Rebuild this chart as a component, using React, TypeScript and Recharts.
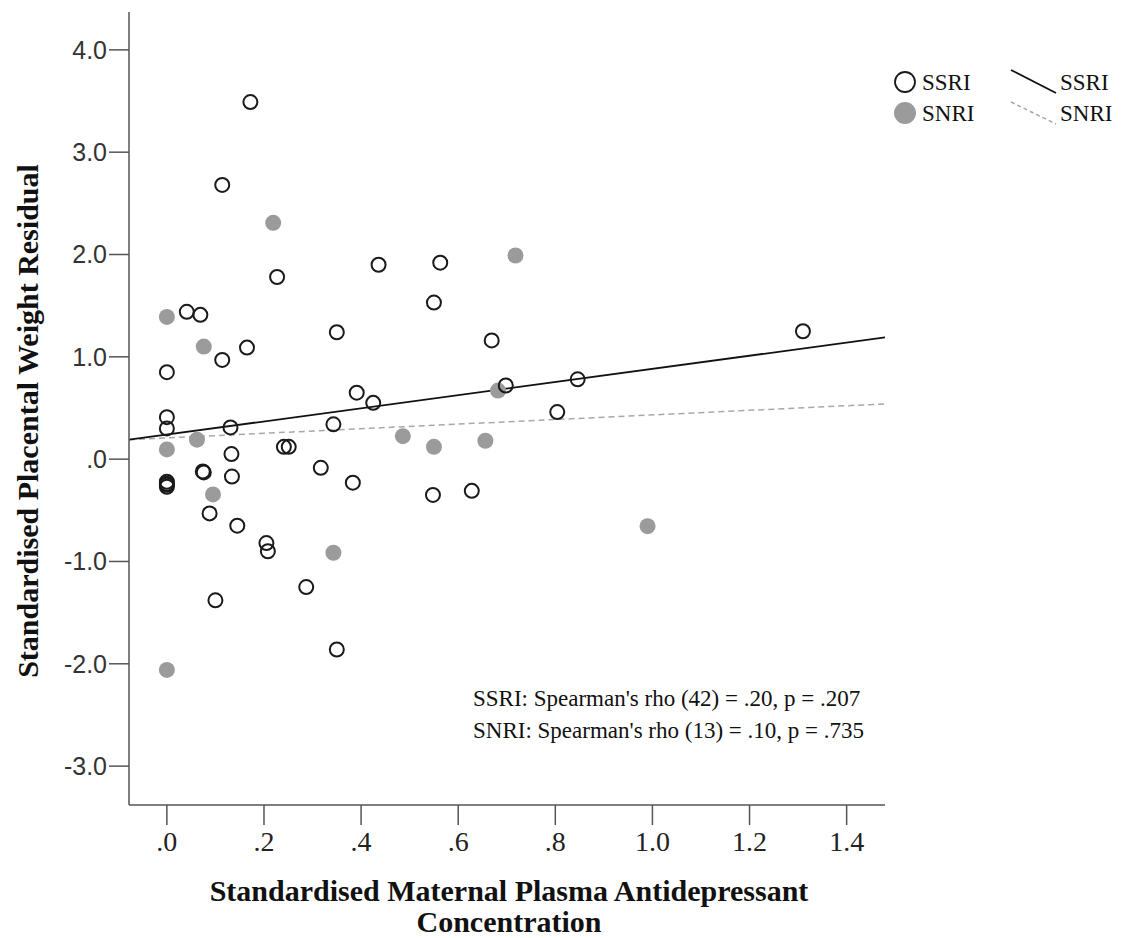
import { ScatterChart, Scatter, XAxis, YAxis, ReferenceLine } from 'recharts'

// SSRI cases (hollow circles)
const ssriX = [
  0.172, 0.114, 0.436, 0.227, 0.041, 0.069, 0.35, 0.165, 0.114, 0, 0.391,
  0.425, 0, 0, 0.131, 0.343, 0.241, 0.251, 0.133, 0, 0, 0, 0, 0.074, 0.076,
  0.134, 0.317, 0.383, 0.088, 0.145, 0.205, 0.208, 0.1, 0.287, 0.35, 0.563,
  0.55, 0.669, 0.698, 0.846, 0.804, 0.548, 0.628, 1.31,
]
const ssriY = [
  3.49, 2.68, 1.9, 1.78, 1.44, 1.41, 1.24, 1.09, 0.97, 0.85, 0.65, 0.55,
  0.41, 0.3, 0.31, 0.34, 0.12, 0.12, 0.05, -0.22, -0.24, -0.25, -0.27, -0.12,
  -0.13, -0.17, -0.085, -0.23, -0.53, -0.65, -0.82, -0.9, -1.38, -1.25, -1.86,
  1.92, 1.53, 1.16, 0.72, 0.78, 0.46, -0.35, -0.31, 1.25,
]

// SNRI cases (filled grey)
const snriX = [
  0.219, 0, 0.076, 0.062, 0, 0.095, 0.343, 0, 0.718, 0.682, 0.486, 0.55,
  0.656, 0.99,
]
const snriY = [
  2.31, 1.39, 1.1, 0.19, 0.095, -0.345, -0.915, -2.06, 1.99, 0.67, 0.225,
  0.12, 0.18, -0.655,
]

// fit lines, end points read at the plot edges
const xDomain = [-0.078, 1.479]
const yDomain = [-3.38, 4.37]
const ssriFitY = [0.19, 1.19]
const snriFitY = [0.19, 0.54]

const xTicks = [0, 0.2, 0.4, 0.6, 0.8, 1.0, 1.2, 1.4]
const yTicks = [-3, -2, -1, 0, 1, 2, 3, 4]

const ssriData = ssriX.map((x, i) => ({ x, y: ssriY[i] }))
const snriData = snriX.map((x, i) => ({ x, y: snriY[i] }))

const fmt = (v: number) => v.toFixed(1).replace(/^0\./, '.').replace(/^-0\./, '-.')

const SERIF = '"Liberation Serif", "Times New Roman", serif'
const AXIS = '#555'

function Hollow(props: any) {
  const { cx, cy } = props
  if (cx == null || cy == null) return null
  return <circle cx={cx} cy={cy} r={7} fill="none" stroke="#1a1a1a" strokeWidth={2} />
}

function Filled(props: any) {
  const { cx, cy } = props
  if (cx == null || cy == null) return null
  return <circle cx={cx} cy={cy} r={8} fill="#9b9b9b" />
}

const titleStyle = {
  position: 'absolute' as const,
  transform: 'translate(-50%, -50%)',
  whiteSpace: 'nowrap' as const,
  fontFamily: SERIF,
  fontWeight: 'bold' as const,
  fontSize: 30,
  lineHeight: '30px',
  color: '#111',
}

export default function App() {
  return (
    <div style={{ position: 'absolute', left: 0, top: 0, width: 1139, height: 938, background: '#fff', overflow: 'hidden' }}>
      <ScatterChart
        width={1139}
        height={938}
        margin={{ top: 12, right: 254, bottom: 73, left: 29 }}
      >
        <XAxis
          type="number"
          dataKey="x"
          domain={xDomain}
          ticks={xTicks}
          tickFormatter={fmt}
          allowDataOverflow
          height={60}
          axisLine={{ stroke: AXIS, strokeWidth: 1.5 }}
          tickLine={{ stroke: AXIS, strokeWidth: 1.5 }}
          tickSize={20}
          tickMargin={6}
          tick={{ fontFamily: SERIF, fontSize: 28, fill: '#222' }}
        />
        <YAxis
          type="number"
          dataKey="y"
          domain={yDomain}
          ticks={yTicks}
          tickFormatter={fmt}
          allowDataOverflow
          width={100}
          axisLine={{ stroke: AXIS, strokeWidth: 1.5 }}
          tickLine={{ stroke: AXIS, strokeWidth: 1.5 }}
          tickSize={20}
          tickMargin={2}
          tick={{ fontFamily: '"Liberation Sans", Arial, sans-serif', fontSize: 25, fill: '#333' }}
        />
        <Scatter name="SNRI" data={snriData} shape={<Filled />} isAnimationActive={false} />
        <Scatter name="SSRI" data={ssriData} shape={<Hollow />} isAnimationActive={false} />
        <ReferenceLine
          segment={[{ x: xDomain[0], y: snriFitY[0] }, { x: xDomain[1], y: snriFitY[1] }]}
          stroke="#a8a8a8"
          strokeWidth={1.5}
          strokeDasharray="6 4"
          ifOverflow="visible"
        />
        <ReferenceLine
          segment={[{ x: xDomain[0], y: ssriFitY[0] }, { x: xDomain[1], y: ssriFitY[1] }]}
          stroke="#111"
          strokeWidth={1.8}
          ifOverflow="visible"
        />
      </ScatterChart>

      {/* y axis title */}
      <div style={{ ...titleStyle, left: 28, top: 421, transform: 'translate(-50%, -50%) rotate(-90deg)' }}>
        Standardised Placental Weight Residual
      </div>

      {/* x axis title, two lines */}
      <div style={{ ...titleStyle, left: 509, top: 891 }}>
        Standardised Maternal Plasma Antidepressant
      </div>
      <div style={{ ...titleStyle, left: 509, top: 922 }}>
        Concentration
      </div>

      {/* correlation note */}
      <div
        style={{
          position: 'absolute', left: 473, top: 683, lineHeight: '32px',
          whiteSpace: 'nowrap', fontFamily: SERIF, fontSize: 23, color: '#111',
        }}
      >
        SSRI: Spearman's rho (42) = .20, p = .207
        <br />
        SNRI: Spearman's rho (13) = .10, p = .735
      </div>

      {/* legend */}
      <svg width={1139} height={140} style={{ position: 'absolute', left: 0, top: 0 }}>
        <circle cx={905} cy={82} r={10} fill="none" stroke="#1a1a1a" strokeWidth={1.8} />
        <circle cx={905} cy={113} r={11} fill="#9b9b9b" />
        <line x1={1011} y1={70} x2={1056} y2={93} stroke="#111" strokeWidth={1.8} />
        <line x1={1011} y1={102} x2={1056} y2={124} stroke="#a8a8a8" strokeWidth={1.5} strokeDasharray="4 3" />
        <g fontFamily={SERIF} fontSize={23} fill="#111">
          <text x={922} y={90}>SSRI</text>
          <text x={922} y={121}>SNRI</text>
          <text x={1060} y={90}>SSRI</text>
          <text x={1060} y={121}>SNRI</text>
        </g>
      </svg>
    </div>
  )
}
